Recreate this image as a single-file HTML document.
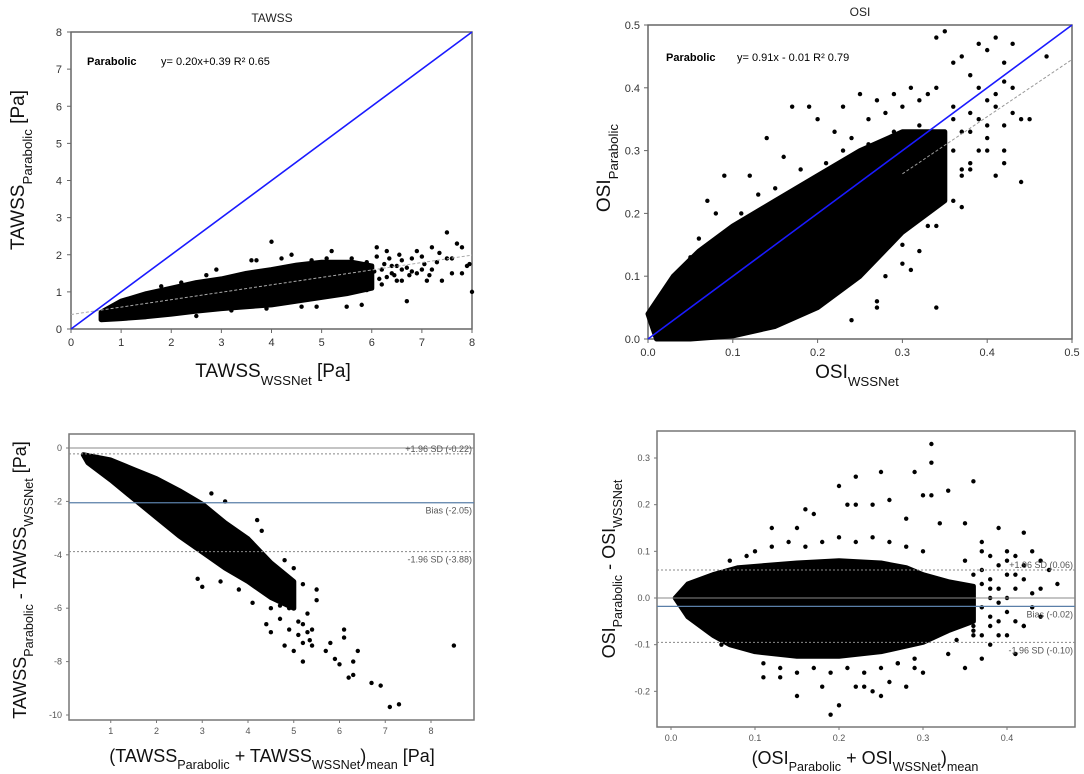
<!DOCTYPE html>
<html><head><meta charset="utf-8"><style>
body{margin:0;background:#fff;width:1084px;height:774px;overflow:hidden}
svg{display:block;font-family:"Liberation Sans",sans-serif}
</style></head><body>
<svg id="fig" width="1084" height="774" viewBox="0 0 1084 774"></svg>
<script>
// ---- data ----
const tlTicksX=[0,1,2,3,4,5,6,7,8];
const tlTicksY=[0,1,2,3,4,5,6,7,8];
const tlCloudUpper=[[0.6,0.45],[1,0.75],[1.5,0.95],[2,1.1],[2.5,1.25],[3,1.35],[3.5,1.5],[4,1.6],[4.5,1.72],[5,1.8],[5.6,1.8],[6,1.7]];
const tlCloudLower=[[6,1.1],[5.5,0.95],[5,0.85],[4.5,0.75],[4,0.65],[3.5,0.6],[3,0.55],[2.5,0.48],[2,0.4],[1.5,0.33],[1,0.28],[0.6,0.25]];
const tlPointsX=[5.2,5.6,5.8,6,6.1,6.3,6.5,6.6,6.8,6.9,7,7.1,7.2,7.3,7.5,7.5,7.6,7.7,7.8,7.9,8,7.8,6.2,5.9,6.4,5.4,5.5,5.8,4,2.9,3.7,4.4,6.7,7.4,5.1,4.8,6.0,6.9,7.2,5.7,6.05,6.25,6.45,6.6,5.95,6.15,6.35,5.75,5.65,6.55,6.75,7.05,6.2,6.4,6.6,6.8,7.0,6.3,6.5,6.7,6.1,5.9,7.15,7.35,7.6,7.95,2.2,2.5,3.2,3.9,4.6,4.9,4.2,3.6,2.7,1.8];
const tlPointsY=[2.1,1.9,1.5,1.2,2.2,2.1,1.7,1.3,1.9,2.1,1.6,1.3,2.2,1.8,2.6,1.9,1.5,2.3,2.2,1.7,1.0,1.5,1.6,1.8,1.5,1.2,0.6,0.65,2.35,1.6,1.85,2.0,0.75,1.3,1.9,1.85,1.4,1.5,1.6,1.7,1.55,1.75,1.45,1.6,1.25,1.35,1.9,1.3,1.6,2.0,1.45,1.75,1.2,1.7,1.85,1.55,1.95,1.4,1.3,1.65,1.95,1.05,1.45,2.05,1.9,1.75,1.25,0.35,0.5,0.55,0.6,0.6,1.9,1.85,1.45,1.15];
const tlFit=[0.20,0.39];

const trTicksX=[0,0.1,0.2,0.3,0.4,0.5];
const trTicksY=[0,0.1,0.2,0.3,0.4,0.5];
const trCloudUpper=[[0,0.04],[0.03,0.1],[0.06,0.14],[0.1,0.18],[0.15,0.22],[0.2,0.26],[0.25,0.3],[0.3,0.33],[0.35,0.33]];
const trCloudLower=[[0.35,0.22],[0.3,0.17],[0.25,0.1],[0.2,0.05],[0.15,0.02],[0.1,0.005],[0.05,0],[0.01,0]];
const trPointsX=[0.34,0.35,0.36,0.37,0.38,0.39,0.4,0.41,0.42,0.43,0.44,0.45,0.47,0.39,0.4,0.42,0.36,0.37,0.38,0.41,0.43,0.35,0.34,0.33,0.32,0.31,0.3,0.29,0.28,0.27,0.26,0.25,0.24,0.23,0.22,0.2,0.19,0.17,0.16,0.14,0.12,0.09,0.07,0.43,0.42,0.41,0.38,0.36,0.33,0.31,0.3,0.28,0.27,0.35,0.4,0.44,0.37,0.39,0.42,0.34,0.36,0.37,0.38,0.39,0.4,0.41,0.36,0.38,0.4,0.42,0.35,0.37,0.33,0.32,0.31,0.29,0.26,0.23,0.21,0.18,0.15,0.13,0.11,0.08,0.06,0.05,0.04,0.03,0.24,0.27,0.3,0.32,0.34];
const trPointsY=[0.48,0.49,0.44,0.45,0.42,0.47,0.46,0.48,0.44,0.47,0.35,0.35,0.45,0.40,0.38,0.41,0.37,0.33,0.36,0.39,0.40,0.31,0.40,0.39,0.38,0.4,0.37,0.39,0.36,0.38,0.35,0.39,0.32,0.37,0.33,0.35,0.37,0.37,0.29,0.32,0.26,0.26,0.22,0.36,0.30,0.26,0.27,0.22,0.18,0.11,0.15,0.10,0.06,0.25,0.34,0.25,0.21,0.30,0.28,0.05,0.3,0.27,0.33,0.35,0.3,0.37,0.35,0.28,0.32,0.34,0.28,0.26,0.3,0.34,0.31,0.33,0.31,0.3,0.28,0.27,0.24,0.23,0.2,0.2,0.16,0.13,0.11,0.08,0.03,0.05,0.12,0.14,0.18];
const trFit=[0.91,-0.01];

const blTicksX=[1,2,3,4,5,6,7,8];
const blTicksY=[0,-2,-4,-6,-8,-10];
const blCloudUpper=[[0.4,-0.25],[1,-0.45],[1.5,-0.8],[2,-1.15],[2.5,-1.6],[3,-2.1],[3.5,-2.8],[4,-3.4],[4.5,-4.3],[5,-5.0]];
const blCloudLower=[[5,-6],[4.5,-5.6],[4,-5.0],[3.5,-4.5],[3,-3.9],[2.5,-3.3],[2,-2.6],[1.5,-1.9],[1,-1.2],[0.5,-0.55]];
const blPointsX=[3.2,3.5,4.2,4.3,4.8,5,5.2,5.5,5.5,4.9,4.6,4.9,5.1,5.3,5.4,5.2,5,4.8,5.2,5.7,5.8,5.9,6,6.1,6.1,6.3,6.4,6.3,6.2,6.7,6.9,7.1,7.3,8.5,4.4,4.5,4.7,4.9,5.0,3,2.9,3.4,3.8,4.1,4.5,5.3,5.4,5.1,4.7,5.2,5.35];
const blPointsY=[-1.7,-2,-2.7,-3.1,-4.2,-4.5,-5.1,-5.3,-5.7,-5.1,-5.6,-6,-6.5,-6.9,-7.4,-7.3,-7.6,-7.4,-8,-7.6,-7.3,-7.9,-8.1,-6.8,-7.1,-8,-7.6,-8.5,-8.6,-8.8,-8.9,-9.7,-9.6,-7.4,-6.6,-6.9,-6.4,-6.8,-5.9,-5.2,-4.9,-5,-5.3,-5.8,-6.0,-6.2,-6.8,-7.0,-5.9,-6.6,-7.2];
const blLines=[-0.22,-2.05,-3.88];

const brTicksX=[0,0.1,0.2,0.3,0.4];
const brTicksY=[0.3,0.2,0.1,0,-0.1,-0.2];
const brCloudUpper=[[0.005,0],[0.02,0.03],[0.05,0.05],[0.08,0.065],[0.15,0.075],[0.2,0.08],[0.25,0.075],[0.28,0.065],[0.3,0.05],[0.33,0.035],[0.36,0.025]];
const brCloudLower=[[0.36,-0.05],[0.33,-0.07],[0.3,-0.095],[0.25,-0.115],[0.2,-0.125],[0.15,-0.125],[0.1,-0.115],[0.07,-0.1],[0.05,-0.08],[0.02,-0.04]];
const brPointsX=[0.31,0.31,0.29,0.25,0.22,0.2,0.36,0.33,0.3,0.31,0.21,0.22,0.24,0.26,0.16,0.17,0.12,0.15,0.28,0.32,0.35,0.37,0.39,0.42,0.43,0.44,0.45,0.46,0.4,0.41,0.38,0.36,0.34,0.42,0.44,0.4,0.37,0.35,0.33,0.2,0.23,0.25,0.28,0.15,0.18,0.22,0.27,0.3,0.29,0.13,0.11,0.19,0.24,0.26,0.39,0.41,
0.37,0.38,0.39,0.4,0.41,0.42,0.43,0.37,0.38,0.39,0.4,0.41,0.36,0.37,0.38,0.39,0.35,0.36,0.37,0.38,0.39,0.4,0.41,0.42,0.43,0.44,0.36,0.38,0.4,0.42,0.34,0.35,0.36,0.37,0.38,0.1,0.12,0.14,0.16,0.18,0.2,0.22,0.24,0.26,0.28,0.3,0.11,0.13,0.15,0.17,0.19,0.21,0.23,0.25,0.27,0.29,0.09,0.07,0.06];
const brPointsY=[0.33,0.29,0.27,0.27,0.26,0.24,0.25,0.23,0.22,0.22,0.2,0.2,0.2,0.21,0.19,0.18,0.15,0.15,0.17,0.16,0.16,0.12,0.15,0.14,0.1,0.08,0.06,0.03,0.1,0.05,0.02,-0.07,-0.09,-0.06,-0.04,-0.08,-0.13,-0.15,-0.12,-0.23,-0.19,-0.21,-0.19,-0.21,-0.19,-0.19,-0.14,-0.16,-0.15,-0.17,-0.17,-0.25,-0.2,-0.18,-0.08,-0.12,
0.06,0.04,0.07,0.05,0.02,0.04,0.01,-0.02,-0.04,-0.01,-0.03,-0.05,0.01,0.03,0.0,0.02,-0.03,-0.06,-0.08,-0.06,-0.05,0.08,0.09,0.07,-0.02,0.02,0.05,0.09,0.0,-0.06,0.03,0.08,-0.08,0.1,-0.1,0.1,0.11,0.12,0.11,0.12,0.13,0.12,0.13,0.12,0.11,0.1,-0.14,-0.15,-0.16,-0.15,-0.16,-0.15,-0.16,-0.15,-0.14,-0.13,0.09,0.08,-0.1];
const brLines=[0.06,-0.018,-0.095];

const NS='http://www.w3.org/2000/svg';
const svg=document.getElementById('fig');
function mk(tag,attrs,parent){const e=document.createElementNS(NS,tag);for(const k in attrs)e.setAttribute(k,attrs[k]);(parent||svg).appendChild(e);return e;}
function scale(d0,d1,r0,r1){return v=>r0+(v-d0)*(r1-r0)/(d1-d0);}
function txt(x,y,s,size,fill,anchor,parent,weight){const t=mk('text',{x:x,y:y,'font-size':size,fill:fill,'text-anchor':anchor||'middle'},parent);if(weight)t.setAttribute('font-weight',weight);t.textContent=s;return t;}
function subLabel(parent,x,y,parts,size,rot){
  const t=mk('text',{x:x,y:y,'font-size':size,fill:'#111','text-anchor':'middle'},parent);
  if(rot)t.setAttribute('transform','rotate(-90 '+x+' '+y+')');
  parts.forEach(p=>{const s=mk('tspan',{},t);s.textContent=p[0];if(p[1]){s.setAttribute('font-size',size*0.7);s.setAttribute('baseline-shift','sub');}});
  return t;
}
function cloud(g,up,lo,X,Y){const pts=up.concat(lo).map(p=>X(p[0]).toFixed(1)+','+Y(p[1]).toFixed(1)).join(' ');const p=mk('polygon',{points:pts,fill:'#000',stroke:'#000','stroke-width':5,'stroke-linejoin':'round'},g);


return p;}
function dots(g,xs,ys,X,Y){xs.forEach((v,i)=>{const c=mk('circle',{cx:X(v),cy:Y(ys[i]),r:2.2,fill:'#000'},g);

});}

// ---- TL ----
{const g=mk('g',{});
const X=scale(0,8,71,472),Y=scale(0,8,329,32);
mk('rect',{x:71,y:32,width:401,height:297,fill:'none',stroke:'#666','stroke-width':1.5},g);
txt(272,22,'TAWSS',12,'#222','middle',g);
tlTicksX.forEach(v=>{mk('line',{x1:X(v),y1:329,x2:X(v),y2:333,stroke:'#666'},g);txt(X(v),346,String(v),11,'#333','middle',g);});
tlTicksY.forEach(v=>{mk('line',{x1:67,y1:Y(v),x2:71,y2:Y(v),stroke:'#666'},g);txt(62,Y(v)+4,String(v),11,'#333','end',g);});
cloud(g,tlCloudUpper,tlCloudLower,X,Y);dots(g,tlPointsX,tlPointsY,X,Y);
mk('line',{x1:X(0),y1:Y(tlFit[1]),x2:X(8),y2:Y(tlFit[0]*8+tlFit[1]),stroke:'#aaa','stroke-dasharray':'3,2'},g);
const l=mk('line',{x1:X(0),y1:Y(0),x2:X(8),y2:Y(8),stroke:'#1a1aff','stroke-width':1.6},g);
txt(87,65,'Parabolic',11,'#000','start',g,'bold');txt(161,65,'y= 0.20x+0.39 R² 0.65',11,'#000','start',g);
subLabel(g,273,377,[['TAWSS'],['WSSNet',1],[' [Pa]']],19);
subLabel(g,24,170,[['TAWSS'],['Parabolic',1],[' [Pa]']],19,true);
}
// ---- TR ----
{const g=mk('g',{});
const X=scale(0,0.5,648,1072),Y=scale(0,0.5,339,25);
mk('rect',{x:648,y:25,width:424,height:314,fill:'none',stroke:'#666','stroke-width':1.5},g);
txt(860,16,'OSI',12,'#222','middle',g);
trTicksX.forEach(v=>{mk('line',{x1:X(v),y1:339,x2:X(v),y2:343,stroke:'#666'},g);txt(X(v),356,v.toFixed(1),11,'#333','middle',g);});
trTicksY.forEach(v=>{mk('line',{x1:644,y1:Y(v),x2:648,y2:Y(v),stroke:'#666'},g);txt(640,Y(v)+4,v.toFixed(1),11,'#333','end',g);});
cloud(g,trCloudUpper,trCloudLower,X,Y);dots(g,trPointsX,trPointsY,X,Y);
mk('line',{x1:X(0.3),y1:Y(trFit[0]*0.3+trFit[1]),x2:X(0.5),y2:Y(trFit[0]*0.5+trFit[1]),stroke:'#999','stroke-dasharray':'3,2'},g);
mk('line',{x1:X(0),y1:Y(0),x2:X(0.5),y2:Y(0.5),stroke:'#1a1aff','stroke-width':1.6},g);
txt(666,61,'Parabolic',11,'#000','start',g,'bold');txt(737,61,'y= 0.91x - 0.01 R² 0.79',11,'#000','start',g);
subLabel(g,857,378,[['OSI'],['WSSNet',1]],19);
subLabel(g,610,168,[['OSI'],['Parabolic',1]],19,true);
}
// ---- BL ----
{const g=mk('g',{});
const X=scale(0,8,65,431),Y=scale(0,-10,448,715);
mk('rect',{x:69,y:434,width:405,height:286,fill:'none',stroke:'#777','stroke-width':1.5},g);
blTicksX.forEach(v=>{mk('line',{x1:X(v),y1:720,x2:X(v),y2:723,stroke:'#777'},g);txt(X(v),734,String(v),9,'#555','middle',g);});
blTicksY.forEach(v=>{mk('line',{x1:66,y1:Y(v),x2:69,y2:Y(v),stroke:'#777'},g);txt(62,Y(v)+3,String(v),9,'#555','end',g);});
mk('line',{x1:69,y1:Y(0),x2:474,y2:Y(0),stroke:'#888'},g);
cloud(g,blCloudUpper,blCloudLower,X,Y);dots(g,blPointsX,blPointsY,X,Y);
mk('line',{x1:69,y1:Y(blLines[0]),x2:474,y2:Y(blLines[0]),stroke:'#888','stroke-dasharray':'2,2'},g);
mk('line',{x1:69,y1:Y(blLines[1]),x2:474,y2:Y(blLines[1]),stroke:'#5a7fa8','stroke-width':1.3},g);
mk('line',{x1:69,y1:Y(blLines[2]),x2:474,y2:Y(blLines[2]),stroke:'#888','stroke-dasharray':'2,2'},g);
txt(472,Y(blLines[0])-2,'+1.96 SD ('+blLines[0].toFixed(2)+')',9,'#555','end',g);
txt(472,Y(blLines[1])+11,'Bias ('+blLines[1].toFixed(2)+')',9,'#555','end',g);
txt(472,Y(blLines[2])+11,'-1.96 SD ('+blLines[2].toFixed(2)+')',9,'#555','end',g);
subLabel(g,272,762,[['(TAWSS'],['Parabolic',1],[' + TAWSS'],['WSSNet',1],[')'],['mean',1],[' [Pa]']],18);
subLabel(g,26,580,[['TAWSS'],['Parabolic',1],[' - TAWSS'],['WSSNet',1],[' [Pa]']],18,true);
}
// ---- BR ----
{const g=mk('g',{});
const X=scale(0,0.1,671,755),Y=scale(0,0.3,598,458);
mk('rect',{x:657,y:431,width:418,height:296,fill:'none',stroke:'#777','stroke-width':1.5},g);
brTicksX.forEach(v=>{mk('line',{x1:X(v),y1:727,x2:X(v),y2:730,stroke:'#777'},g);txt(X(v),741,v.toFixed(1),9,'#555','middle',g);});
brTicksY.forEach(v=>{mk('line',{x1:654,y1:Y(v),x2:657,y2:Y(v),stroke:'#777'},g);txt(650,Y(v)+3,v.toFixed(1),9,'#555','end',g);});
cloud(g,brCloudUpper,brCloudLower,X,Y);dots(g,brPointsX,brPointsY,X,Y);
mk('line',{x1:657,y1:Y(0),x2:1075,y2:Y(0),stroke:'#888'},g);
mk('line',{x1:657,y1:Y(brLines[0]),x2:1075,y2:Y(brLines[0]),stroke:'#888','stroke-dasharray':'2,2'},g);
mk('line',{x1:657,y1:Y(brLines[1]),x2:1075,y2:Y(brLines[1]),stroke:'#5a7fa8','stroke-width':1.3},g);
mk('line',{x1:657,y1:Y(brLines[2]),x2:1075,y2:Y(brLines[2]),stroke:'#888','stroke-dasharray':'2,2'},g);
txt(1073,Y(brLines[0])-2,'+1.96 SD ('+brLines[0].toFixed(2)+')',9,'#555','end',g);
txt(1073,Y(brLines[1])+11,'Bias ('+brLines[1].toFixed(2)+')',9,'#555','end',g);
txt(1073,Y(brLines[2])+11,'-1.96 SD ('+brLines[2].toFixed(2)+')',9,'#555','end',g);
subLabel(g,865,764,[['(OSI'],['Parabolic',1],[' + OSI'],['WSSNet',1],[')'],['mean',1]],18);
subLabel(g,615,569,[['OSI'],['Parabolic',1],[' - OSI'],['WSSNet',1]],18,true);
}
</script>
</body></html>
